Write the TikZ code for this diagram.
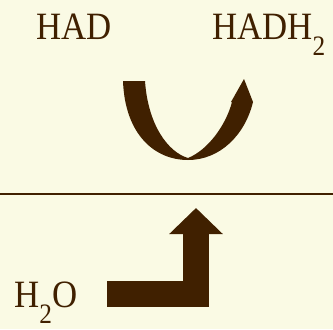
\documentclass[tikz,border=0pt]{standalone}
\usepackage{fontspec}
\setmainfont{Liberation Serif}[FakeStretch=0.9]
\definecolor{creambg}{RGB}{250,250,228}
\definecolor{darkbrown}{RGB}{64,32,0}
\usetikzlibrary{arrows.meta}
\newcommand{\lowsub}[1]{\raisebox{-0.42em}{\fontsize{24}{24}\selectfont #1}}
\tikzset{
  chem/.style     = {font=\fontsize{33}{33}\selectfont, text=darkbrown, inner sep=0pt, anchor=base west},
  divider/.style  = {draw=darkbrown, line width=0.06cm},
  bigarrow/.style = {draw=darkbrown, line width=0.78cm, line join=miter,
                     -{Triangle[width=1.56cm, length=0.78cm]}},
  ribbon/.style   = {fill=darkbrown},
}

\begin{document}
\begin{tikzpicture}[x=0.03cm, y=-0.03cm]
    % background
    \fill[creambg] (0,0) rectangle (333,329);
    \useasboundingbox (0,0) rectangle (333,329);

    % reactants / products
    \node[chem] (had)   at (36,39)  {HAD};
    \node[chem] (hadh)  at (212,39) {HADH\lowsub{2}};
    \node[chem] (water) at (14,307) {H\lowsub{2}O};

    % dividing line
    \coordinate (lineleft)  at (0,194);
    \coordinate (lineright) at (333,194);
    \draw[divider] (lineleft) -- (lineright);

    % curved ribbon arrow
    \fill[ribbon] (123,81) -- (145,81)
      .. controls (148,125) and (168,152) .. (188,158)
      .. controls (208,150) and (226,125) .. (232,102)
      -- (231,102) -- (244,79) -- (253,102)
      .. controls (245,135) and (220,160) .. (188,160)
      .. controls (155,160) and (125,135) .. (123,81) -- cycle;

    % bent arrow from water
    \coordinate (lstart) at (107,294);
    \coordinate (ltip)   at (196,208);
    \draw[bigarrow] (lstart) -| (ltip);
  \end{tikzpicture}
\end{document}
